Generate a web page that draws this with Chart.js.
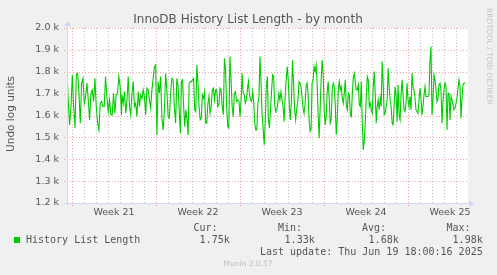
<!DOCTYPE html>
<html><head><meta charset="utf-8">
<script src="https://cdn.jsdelivr.net/npm/chart.js@4.4.1/dist/chart.umd.min.js"></script>
<style>html,body{margin:0;padding:0;background:#F0F0F0;}canvas{display:block;}</style>
</head><body>
<canvas id="c" width="497" height="275"></canvas>
<script>
// ---- data (History List Length, undo log units) ----
const seg1 = [1810,1656,1557,1641,1786,1641,1542,1786,1793,1702,1565,1748,1770,1656,1687,1748,1671,1580,1702,1717,1664,1770,1641,1565,1534,1656,1664,1641,1641,1778,1687,1618,1671,1603,1603,1702,1610,1694,1702,1778,1732,1603];
const seg2 = [1694,1656,1709,1610,1671,1778,1641,1603,1702,1755,1641,1656,1595,1709,1641,1694,1679,1717,1687,1603,1725,1717,1671,1633,1717,1770,1824,1831,1511,1755,1702,1778,1588,1534,1626,1793,1717,1595,1588,1702,1770,1763,1641,1565,1770,1732,1610];
const seg3 = [1519,1755,1763,1641,1549,1626,1588,1511,1748,1755,1755,1763,1770,1626,1618,1831,1748,1641,1580,1588,1694,1679,1709,1565,1565,1656,1687,1610,1641,1717,1725,1671,1717,1717,1641,1649,1725,1717,1641,1603,1862,1809,1641,1549,1542,1870,1763,1641,1595,1702,1709,1664,1671];
const seg4 = [1664,1595,1671,1793,1702,1694,1656,1671,1717,1755,1694,1671,1664,1709,1664,1565,1534,1534,1656,1687,1870,1748,1603,1542,1466,1565,1732,1778,1580,1542,1626,1709,1786,1778,1649,1618,1626,1656,1702,1671,1709,1671,1641,1572,1687,1763,1824,1755,1641,1580,1671,1854,1748,1626,1580];
const seg5 = [1641,1671,1755,1748,1732,1687,1633,1610,1649,1732,1748,1702,1580,1527,1534,1748,1763,1824,1801,1831,1748,1610,1496,1633,1763,1854,1793,1626,1557,1595,1709,1755,1679,1565,1580,1717,1748,1732,1656,1511,1580,1717,1755,1717,1732,1679,1656,1702,1763,1641,1626,1702,1694,1603,1595,1702,1778];
const seg6 = [1793,1748,1717,1717,1740,1649,1641,1755,1565,1443,1489,1565,1687,1778,1763,1641,1656,1626,1610,1732,1801,1702,1565,1641,1671,1626,1679,1641,1847,1748,1603,1610,1641,1671,1816,1732,1671,1641,1565,1557,1649,1732,1694,1572,1740,1603,1580,1694,1763,1694,1626,1618,1656,1748,1671,1641,1687,1626];
const seg7 = [1793,1732,1717,1679,1626,1618,1610,1671,1725,1679,1603,1641,1694,1732,1687,1687,1687,1694,1854,1915,1603,1671,1786,1763,1717,1664,1679,1740,1748,1717,1565,1664,1717,1748,1732,1534,1702,1702,1580,1687,1671,1649,1626,1633,1656,1679,1725,1763,1732,1588,1679,1740,1748,1748];
// time span of each segment, hours from the left edge of the graph
const segStartH = [0,110,226.7,344,460,574.7,690];
const segEndH   = [109,224.7,341.3,457.3,572.7,688,796];
const rangeH = [0, 802];
const weekStartsH = [10,178,346,514,682];
const weekLabels = ['Week 21','Week 22','Week 23','Week 24','Week 25'];
const yTicks = [1200,1300,1400,1500,1600,1700,1800,1900,2000];
const yTickLabels = ['1.2 k','1.3 k','1.4 k','1.5 k','1.6 k','1.7 k','1.8 k','1.9 k','2.0 k'];
const seriesName = 'History List Length';
const statNames = ['Cur:','Min:','Avg:','Max:'];
const statValues = ['1.75k','1.33k','1.68k','1.98k'];
const lastUpdate = 'Last update: Thu Jun 19 18:00:16 2025';

// build points
const segs = [seg1,seg2,seg3,seg4,seg5,seg6,seg7];
const points = [];
segs.forEach((s,i)=>{
  const n = s.length;
  s.forEach((v,j)=>{
    const t = segStartH[i] + (segEndH[i]-segStartH[i]) * (n>1 ? j/(n-1) : 0);
    points.push({x:t, y:v});
  });
});

const SANS = '"DejaVu Sans", "Liberation Sans", sans-serif';
const MONO = '"DejaVu Sans Mono", "Liberation Mono", monospace';
const AXIS = '#CFD6F8';

const munin = {
  id:'munin',
  beforeDraw(c){
    const ctx=c.ctx, a=c.chartArea;
    ctx.save();
    ctx.fillStyle='#F0F0F0'; ctx.fillRect(0,0,c.width,c.height);
    ctx.fillStyle='#FFFFFF'; ctx.fillRect(a.left,a.top,a.right-a.left,a.bottom-a.top);
    ctx.restore();
  },
  beforeDatasetsDraw(c){
    const ctx=c.ctx, a=c.chartArea, xs=c.scales.x, ys=c.scales.y;
    ctx.save();
    ctx.lineWidth=1;
    ctx.setLineDash([1,2]);
    // minor (day) lines
    ctx.strokeStyle='rgba(140,140,140,0.5)';
    for(let t=weekStartsH[0]-24*Math.floor(weekStartsH[0]/24); t<rangeH[1]; t+=24){
      if(weekStartsH.includes(t)) continue;
      const x=Math.round(xs.getPixelForValue(t))+0.5;
      ctx.beginPath(); ctx.moveTo(x,a.top); ctx.lineTo(x,a.bottom+2); ctx.stroke();
    }
    // major lines
    ctx.strokeStyle='rgba(225,70,70,0.5)';
    weekStartsH.forEach(t=>{
      const x=Math.round(xs.getPixelForValue(t))+0.5;
      ctx.beginPath(); ctx.moveTo(x,a.top); ctx.lineTo(x,a.bottom+3); ctx.stroke();
    });
    yTicks.forEach(v=>{
      const y=Math.round(ys.getPixelForValue(v))+0.5;
      ctx.beginPath(); ctx.moveTo(a.left-3,y); ctx.lineTo(a.right,y); ctx.stroke();
    });
    ctx.restore();
  },
  afterDatasetsDraw(c){
    const ctx=c.ctx, a=c.chartArea, xs=c.scales.x, ys=c.scales.y;
    ctx.save();
    // axes
    ctx.strokeStyle=AXIS; ctx.fillStyle=AXIS; ctx.lineWidth=1;
    const yb=Math.round(a.bottom)+0.5, xl=Math.round(a.left)+0.5;
    ctx.beginPath(); ctx.moveTo(a.left-3,yb); ctx.lineTo(a.right+2,yb); ctx.stroke();
    ctx.beginPath(); ctx.moveTo(a.right+1,yb-3.5); ctx.lineTo(a.right+6,yb); ctx.lineTo(a.right+1,yb+3.5); ctx.closePath(); ctx.fill();
    ctx.beginPath(); ctx.moveTo(xl,a.bottom+3); ctx.lineTo(xl,a.top-2); ctx.stroke();
    ctx.beginPath(); ctx.moveTo(xl-3.5,a.top-2); ctx.lineTo(xl,a.top-7); ctx.lineTo(xl+3.5,a.top-2); ctx.closePath(); ctx.fill();

    // title
    ctx.fillStyle='#555';
    ctx.font='12px '+SANS; ctx.textAlign='center'; ctx.textBaseline='alphabetic';
    ctx.fillText('InnoDB History List Length - by month', 248, 23);
    // y tick labels
    ctx.font='9.5px '+SANS; ctx.textAlign='right'; ctx.textBaseline='middle';
    yTicks.forEach((v,i)=>ctx.fillText(yTickLabels[i], 59, ys.getPixelForValue(v)));
    // x labels
    ctx.textAlign='center';
    weekStartsH.forEach((t,i)=>ctx.fillText(weekLabels[i], xs.getPixelForValue(t+84), 213));
    // y axis title
    ctx.save(); ctx.translate(11,114); ctx.rotate(-Math.PI/2);
    ctx.font='10.5px '+SANS; ctx.textAlign='center'; ctx.textBaseline='middle';
    ctx.fillText('Undo log units',0,0); ctx.restore();
    // rrdtool credit
    ctx.save(); ctx.translate(489,8); ctx.rotate(Math.PI/2);
    ctx.fillStyle='#C4C4C4'; ctx.font='7.5px '+SANS; ctx.textAlign='left'; ctx.textBaseline='middle';
    ctx.fillText('RRDTOOL / TOBI OETIKER',0,0); ctx.restore();

    // legend
    ctx.fillStyle='#00CC00'; ctx.fillRect(14,237,6,6);
    ctx.fillStyle='#555'; ctx.font='10px '+MONO; ctx.textBaseline='middle'; ctx.textAlign='left';
    ctx.fillText(seriesName, 26, 240);
    const statRight=[217.5,302,386,470.5], valRight=[229.7,314.7,398.7,482.7];
    ctx.textAlign='right';
    statNames.forEach((s,i)=>ctx.fillText(s, statRight[i], 228));
    statValues.forEach((s,i)=>ctx.fillText(s, valRight[i], 240));
    ctx.fillText(lastUpdate, 482.7, 252);
    ctx.fillStyle='#BFBFBF'; ctx.font='7.5px '+SANS; ctx.textAlign='center';
    ctx.fillText('Munin 2.0.57', 248, 264);
    ctx.restore();
  }
};

new Chart(document.getElementById('c'), {
  type:'line',
  data:{datasets:[{label:seriesName, data:points, borderColor:'#00CC00', borderWidth:1.1, pointRadius:0, tension:0, fill:false}]},
  options:{
    responsive:false, animation:false, devicePixelRatio:1,
    layout:{padding:{left:67, top:28, right:29, bottom:72}},
    plugins:{legend:{display:false}, tooltip:{enabled:false}},
    scales:{
      x:{type:'linear', min:rangeH[0], max:rangeH[1], display:false},
      y:{type:'linear', min:yTicks[0], max:yTicks[yTicks.length-1], display:false}
    }
  },
  plugins:[munin]
});
</script>
</body></html>
